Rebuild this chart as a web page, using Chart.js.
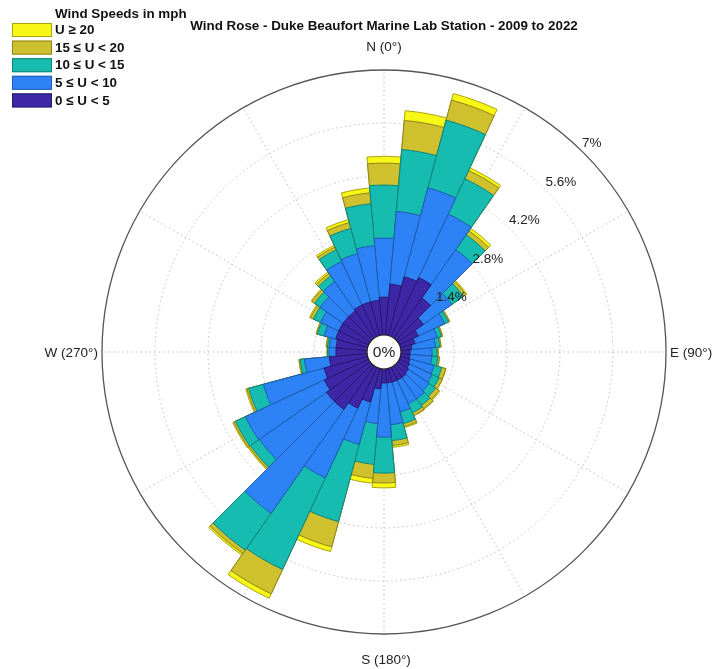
<!DOCTYPE html>
<html>
<head>
<meta charset="utf-8">
<title>Wind Rose</title>
<script src="https://cdn.jsdelivr.net/npm/chart.js@4.4.1/dist/chart.umd.min.js"></script>
<style>
  html, body { margin: 0; padding: 0; background: #fff; }
  #wrap { width: 713px; height: 669px; }
</style>
</head>
<body>
<div id="wrap"><canvas id="rose" width="713" height="669"></canvas></div>
<script>
// direction bins, 10 degrees wide, centred on 0, 10, ... 350
var directions = [];
for (var d = 0; d < 360; d += 10) directions.push(d + '°');

// frequency (%) of each speed class per direction bin
var speed0to5 = [1.00, 1.35, 1.61, 1.72, 1.29, 0.82, 0.55, 0.40, 0.29, 0.24, 0.24, 0.26,
                 0.29, 0.34, 0.37, 0.37, 0.37, 0.37, 0.37, 0.53, 0.92, 1.19, 1.40, 1.40,
                 1.29, 1.19, 1.00, 0.82, 0.82, 0.87, 0.87, 0.87, 0.87, 0.92, 0.92, 0.92];
var speed5to10 = [1.56, 1.93, 2.43, 1.85, 1.56, 0.92, 0.77, 0.61, 0.63, 0.58, 0.58, 0.66,
                  0.66, 0.66, 0.69, 0.69, 0.82, 1.11, 1.43, 0.92, 1.16, 2.03, 3.35, 2.17,
                  2.30, 1.66, 0.66, 0.18, 0.18, 0.32, 0.53, 0.74, 0.95, 1.27, 1.32, 1.45];
var speed10to15 = [1.40, 1.64, 1.85, 1.03, 0.48, 0.37, 0.11, 0.11, 0.11, 0.13, 0.16, 0.21,
                   0.21, 0.21, 0.21, 0.26, 0.32, 0.42, 0.95, 1.08, 2.11, 2.67, 1.19, 0.29,
                   0.29, 0.40, 0.11, 0.04, 0.05, 0.18, 0.21, 0.18, 0.18, 0.34, 0.69, 1.11];
var speed15to20 = [0.58, 0.77, 0.55, 0.24, 0.13, 0.08, 0.03, 0.03, 0.03, 0.03, 0.04, 0.11,
                   0.09, 0.11, 0.11, 0.08, 0.08, 0.13, 0.26, 0.37, 0.69, 0.71, 0.11, 0.05,
                   0.05, 0.05, 0.03, 0.01, 0.03, 0.03, 0.08, 0.08, 0.08, 0.08, 0.16, 0.29];
var speed20plus = [0.18, 0.26, 0.18, 0.08, 0.08, 0.03, 0.01, 0.01, 0.01, 0.01, 0.01, 0.01,
                   0.01, 0.03, 0.01, 0.01, 0.03, 0.05, 0.13, 0.13, 0.13, 0.13, 0.05, 0.03,
                   0.03, 0.03, 0.01, 0.01, 0.01, 0.01, 0.03, 0.03, 0.05, 0.05, 0.08, 0.13];

var speedClasses = ['0 ≤ U < 5', '5 ≤ U < 10', '10 ≤ U < 15', '15 ≤ U < 20', 'U ≥ 20'];
var classColors = ['#3e27a7', '#2d83f6', '#17bcb0', '#cfc02e', '#f7f716'];
var classEdges = ['#281a6e', '#1e5cb0', '#0f847b', '#8f8419', '#aaa312'];

var tickValues = [1.4, 2.8, 4.2, 5.6, 7];
var compassLabels = ['N (0°)', 'E (90°)', 'S (180°)', 'W (270°)'];

var FONT = "'Liberation Sans', Arial, sans-serif";

// polarArea has no stacking, so each class is drawn as a cumulative arc
// with the biggest one underneath
var layers = [speed0to5, speed5to10, speed10to15, speed15to20, speed20plus];
var cumulative = [];
layers.forEach(function (layer, i) {
    cumulative.push(layer.map(function (v, j) {
        return i === 0 ? v : cumulative[i - 1][j] + v;
    }));
});

var datasets = layers.map(function (layer, i) {
    return {
        label: speedClasses[i],
        data: cumulative[i].map(function (v) { return +v.toFixed(3); }),
        backgroundColor: classColors[i],
        borderColor: classEdges[i],
        borderWidth: 1
    };
});

function pt(cx, cy, r, bearing) {
    var a = (bearing - 90) * Math.PI / 180;
    return [cx + r * Math.cos(a), cy + r * Math.sin(a)];
}

var roseDecor = {
    id: 'roseDecor',
    beforeDatasetsDraw: function (chart) {
        var s = chart.scales.r, ctx = chart.ctx;
        var cx = s.xCenter, cy = s.yCenter;
        var r0 = s.getDistanceFromCenterForValue(0);
        var rMax = s.getDistanceFromCenterForValue(s.max);
        ctx.save();
        ctx.strokeStyle = '#bdbdbd';
        ctx.lineWidth = 1;
        ctx.setLineDash([1.5, 3]);
        tickValues.slice(0, -1).forEach(function (v) {
            ctx.beginPath();
            ctx.arc(cx, cy, s.getDistanceFromCenterForValue(v), 0, Math.PI * 2);
            ctx.stroke();
        });
        for (var b = 0; b < 360; b += 30) {
            var p1 = pt(cx, cy, r0, b), p2 = pt(cx, cy, rMax, b);
            ctx.beginPath();
            ctx.moveTo(p1[0], p1[1]);
            ctx.lineTo(p2[0], p2[1]);
            ctx.stroke();
        }
        ctx.restore();
    },
    afterDatasetsDraw: function (chart) {
        var s = chart.scales.r, ctx = chart.ctx;
        var cx = s.xCenter, cy = s.yCenter;
        var r0 = s.getDistanceFromCenterForValue(0);
        var rMax = s.getDistanceFromCenterForValue(s.max);
        ctx.save();
        // outer ring
        ctx.strokeStyle = '#555';
        ctx.lineWidth = 1.3;
        ctx.beginPath();
        ctx.arc(cx, cy, rMax, 0, Math.PI * 2);
        ctx.stroke();
        // centre hole
        ctx.fillStyle = '#fff';
        ctx.strokeStyle = '#222';
        ctx.lineWidth = 1.2;
        ctx.beginPath();
        ctx.arc(cx, cy, r0, 0, Math.PI * 2);
        ctx.fill();
        ctx.stroke();
        ctx.fillStyle = '#222';
        ctx.font = '15.5px ' + FONT;
        ctx.textAlign = 'center';
        ctx.textBaseline = 'middle';
        ctx.fillText('0%', cx, cy + 1);

        // ring labels
        ctx.font = '13.5px ' + FONT;
        ctx.textAlign = 'left';
        tickValues.forEach(function (v) {
            var p = pt(cx, cy, s.getDistanceFromCenterForValue(v) + 5.5, 43.5);
            ctx.fillText(v + '%', p[0], p[1]);
        });

        // compass labels
        ctx.textAlign = 'center';
        ctx.fillText(compassLabels[0], cx, cy - rMax - 23);
        ctx.fillText(compassLabels[2], cx + 2, cy + rMax + 26);
        ctx.textAlign = 'left';
        ctx.fillText(compassLabels[1], cx + rMax + 4, cy + 1);
        ctx.textAlign = 'right';
        ctx.fillText(compassLabels[3], cx - rMax - 4, cy + 1);

        // title
        ctx.fillStyle = '#111';
        ctx.font = 'bold 13.4px ' + FONT;
        ctx.textAlign = 'center';
        ctx.fillText('Wind Rose - Duke Beaufort Marine Lab Station - 2009 to 2022', cx, 26);

        // legend
        ctx.textAlign = 'left';
        ctx.fillText('Wind Speeds in mph', 55, 14);
        for (var i = 0; i < 5; i++) {
            var k = 4 - i;
            var y = 23 + i * 17.6;
            ctx.fillStyle = classColors[k];
            ctx.fillRect(12, y, 40, 14);
            ctx.strokeStyle = classEdges[k];
            ctx.lineWidth = 1;
            ctx.strokeRect(12.5, y + 0.5, 39, 13);
            ctx.fillStyle = '#111';
            ctx.fillText(speedClasses[k], 55, y + 7.5);
        }
        ctx.restore();
    }
};

var ctx = document.getElementById('rose').getContext('2d');
var windRose = new Chart(ctx, {
    type: 'polarArea',
    data: {
        labels: directions,
        datasets: datasets
    },
    options: {
        responsive: false,
        animation: false,
        layout: { padding: { left: 55, right: 0, top: 70, bottom: 35 } },
        plugins: {
            legend: { display: false },
            title: { display: false },
            tooltip: { enabled: false }
        },
        scales: {
            r: {
                startAngle: -5,
                min: -0.449,
                max: 7,
                ticks: { display: false },
                grid: { display: false },
                angleLines: { display: false },
                pointLabels: { display: false }
            }
        }
    },
    plugins: [roseDecor]
});
</script>
</body>
</html>
